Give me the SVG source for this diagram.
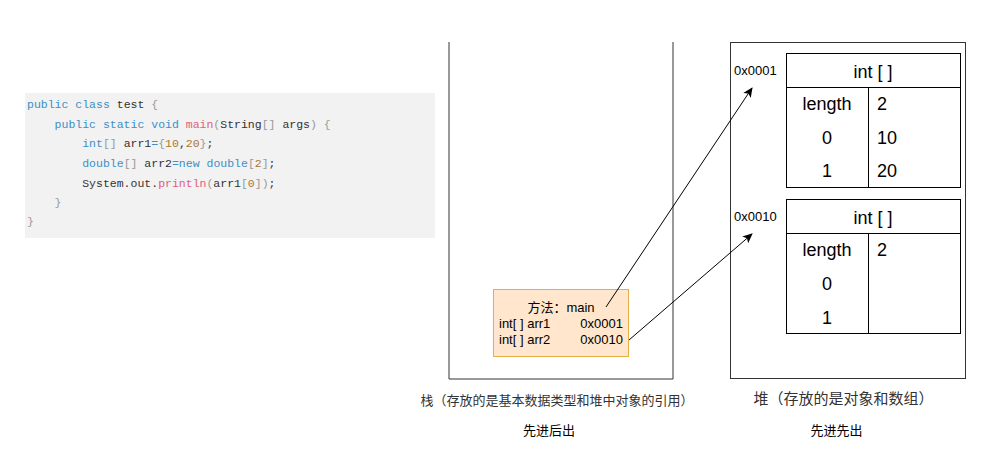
<svg xmlns="http://www.w3.org/2000/svg" width="988" height="462" viewBox="0 0 988 462">
<defs>
<style>
.code{font-family:"Liberation Mono",monospace;font-size:11.5px;fill:#333;white-space:pre}
.kw{fill:#3d8fc6}.g{fill:#999}.fn{fill:#e0607e}.num{fill:#a8762e}
.sans{font-family:"Liberation Sans",Arial,sans-serif}
.cjk{font-family:"Liberation Sans","Noto Sans CJK SC",sans-serif}
.cell{font-family:"Liberation Sans",Arial,sans-serif;font-size:18px;fill:#000}
.addr{font-family:"Liberation Sans",Arial,sans-serif;font-size:13px;fill:#000}
.ln{fill:none;stroke:#333;stroke-width:1}
.tb{fill:#fff;stroke:#000;stroke-width:1}
.conn{fill:none;stroke:#000;stroke-width:1}
</style>
<marker id="ah" viewBox="0 0 10 10" refX="9" refY="5" markerWidth="10" markerHeight="10" markerUnits="userSpaceOnUse" orient="auto">
<path d="M0,0.5 L10,5 L0,9.5 L2.5,5 Z" fill="#000"/>
</marker>
</defs>
<rect width="988" height="462" fill="#fff"/>

<g id="code">
<rect x="25" y="93" width="410" height="145" fill="#f2f2f2"/>
<text class="code" x="27" y="108"><tspan class="kw">public class</tspan> test <tspan class="g">{</tspan></text>
<text class="code" x="27" y="128">    <tspan class="kw">public static void</tspan> <tspan class="fn">main</tspan><tspan class="g">(</tspan>String<tspan class="g">[]</tspan> args<tspan class="g">) {</tspan></text>
<text class="code" x="27" y="147">        <tspan class="kw">int</tspan><tspan class="g">[]</tspan> arr1<tspan class="kw">=</tspan><tspan class="g">{</tspan><tspan class="num">10</tspan>,<tspan class="num">20</tspan><tspan class="g">}</tspan>;</text>
<text class="code" x="27" y="167">        <tspan class="kw">double</tspan><tspan class="g">[]</tspan> arr2<tspan class="kw">=new double</tspan><tspan class="g">[</tspan><tspan class="num">2</tspan><tspan class="g">]</tspan>;</text>
<text class="code" x="27" y="187">        System.out.<tspan class="fn">println</tspan><tspan class="g">(</tspan>arr1<tspan class="g">[</tspan><tspan class="num">0</tspan><tspan class="g">])</tspan>;</text>
<text class="code" x="27" y="206">    <tspan class="g">}</tspan></text>
<text class="code" x="27" y="225"><tspan class="g">}</tspan></text>
</g>

<g id="stack">
<path class="ln" d="M449,42 V379 H673 V42"/>
<text class="cjk" x="557" y="405" font-size="13" fill="#333" text-anchor="middle">栈（存放的是基本数据类型和堆中对象的引用）</text>
<text class="cjk" x="549" y="435" font-size="13" fill="#000" text-anchor="middle">先进后出</text>
</g>

<g id="frame">
<rect x="493.5" y="289.5" width="135" height="67" fill="#ffe6cc" stroke="#e2b04a" stroke-width="1"/>
<text class="cjk" x="561" y="312" font-size="13" fill="#000" text-anchor="middle">方法：main</text>
<text class="sans" x="499" y="328" font-size="13" fill="#000">int[ ] arr1</text>
<text class="sans" x="623" y="328" font-size="13" fill="#000" text-anchor="end">0x0001</text>
<text class="sans" x="499" y="344" font-size="13" fill="#000">int[ ] arr2</text>
<text class="sans" x="623" y="344" font-size="13" fill="#000" text-anchor="end">0x0010</text>
</g>

<g id="heap">
<rect class="ln" x="730.5" y="42.5" width="235" height="336"/>
<text class="cjk" x="843.5" y="404" font-size="15" fill="#333" text-anchor="middle">堆（存放的是对象和数组）</text>
<text class="cjk" x="836.5" y="435" font-size="13" fill="#000" text-anchor="middle">先进先出</text>
</g>

<g id="array1">
<text class="addr" x="734" y="75">0x0001</text>
<rect class="tb" x="786.5" y="53.5" width="174" height="134"/>
<path class="conn" d="M786.5,87.5 H960.5 M868.5,87.5 V187.5"/>
<text class="cell" x="873" y="78" text-anchor="middle">int [ ]</text>
<text class="cell" x="827" y="110" text-anchor="middle">length</text>
<text class="cell" x="827" y="144" text-anchor="middle">0</text>
<text class="cell" x="827" y="177" text-anchor="middle">1</text>
<text class="cell" x="877" y="110">2</text>
<text class="cell" x="877" y="144">10</text>
<text class="cell" x="877" y="177">20</text>
</g>

<g id="array2">
<text class="addr" x="734" y="221">0x0010</text>
<rect class="tb" x="786.5" y="199.5" width="174" height="134"/>
<path class="conn" d="M786.5,233.5 H960.5 M868.5,233.5 V333.5"/>
<text class="cell" x="873" y="224" text-anchor="middle">int [ ]</text>
<text class="cell" x="827" y="256" text-anchor="middle">length</text>
<text class="cell" x="827" y="290" text-anchor="middle">0</text>
<text class="cell" x="827" y="324" text-anchor="middle">1</text>
<text class="cell" x="877" y="256">2</text>
</g>

<g id="connectors">
<line class="conn" x1="606" y1="307" x2="752" y2="88" marker-end="url(#ah)"/>
<line class="conn" x1="629" y1="340" x2="752" y2="234" marker-end="url(#ah)"/>
</g>
</svg>
